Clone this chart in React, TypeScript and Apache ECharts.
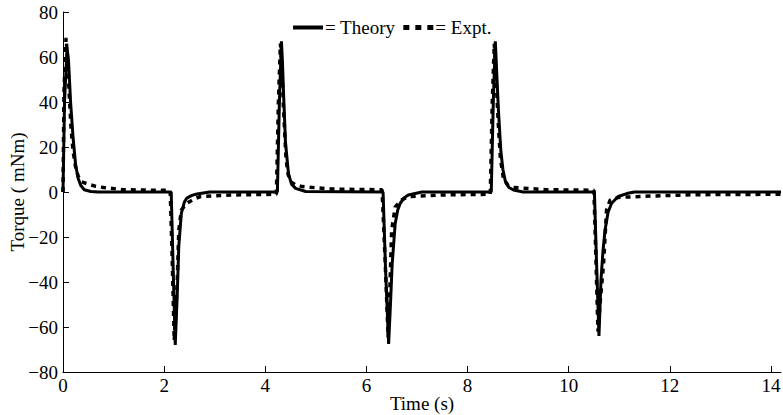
import React, { useEffect, useRef } from "react";
import * as echarts from "echarts";

const theoryTime = [0, 0.03, 0.08, 0.11, 0.15, 0.2, 0.25, 0.3, 0.35, 0.42, 0.55, 0.7, 2.14, 2.18, 2.22, 2.26, 2.29, 2.34, 2.4, 2.45, 2.55, 2.65, 2.9, 4.24, 4.28, 4.32, 4.34, 4.36, 4.4, 4.46, 4.52, 4.6, 4.8, 6.33, 6.38, 6.44, 6.48, 6.51, 6.57, 6.62, 6.67, 6.75, 6.83, 7.1, 8.47, 8.51, 8.55, 8.58, 8.61, 8.66, 8.7, 8.75, 8.82, 8.91, 9.1, 10.51, 10.55, 10.6, 10.64, 10.68, 10.72, 10.78, 10.85, 10.98, 11.15, 11.3, 14.2];
const theoryTorque = [0, 40, 64, 58, 40, 24, 12, 6, 3, 1, 0.2, 0, 0, -35, -68, -45, -24, -9.5, -4.5, -2.7, -1.5, -0.9, 0, 0, 40, 67, 58, 45, 22, 8, 3.5, 1.6, 0.2, 0, -35, -67.5, -48, -32, -14, -8, -5, -2.5, -1.3, 0, 0, 40, 67, 52, 37, 18, 10, 4.6, 2, 0.9, 0, 0, -30, -64, -39, -26, -17, -9, -5, -2, -0.7, 0, 0];

const exptTime = [0, 0.02, 0.06, 0.09, 0.12, 0.16, 0.2, 0.25, 0.3, 0.37, 0.5, 0.65, 0.8, 1.2, 2.12, 2.16, 2.2, 2.23, 2.26, 2.29, 2.34, 2.45, 2.6, 2.72, 3.37, 4.22, 4.26, 4.3, 4.33, 4.36, 4.41, 4.45, 4.5, 4.6, 4.73, 5.32, 6.31, 6.37, 6.43, 6.45, 6.47, 6.5, 6.57, 6.7, 6.83, 7.5, 8.45, 8.49, 8.53, 8.57, 8.61, 8.65, 8.71, 8.8, 8.91, 9.56, 10.5, 10.54, 10.58, 10.62, 10.69, 10.75, 10.82, 10.98, 11.64, 12.5, 14.2];
const exptTorque = [0, 45, 68.5, 60, 45, 28, 18, 11, 7, 4.5, 3.5, 2.5, 2, 1, 0.7, -30, -66, -55, -39, -17, -8, -5, -3, -2, -1.3, -1, 40, 66, 55, 37.5, 15, 8, 4.6, 3.2, 2.4, 1.3, 1, -30, -64.5, -52, -39, -17, -6.6, -3.5, -2, -1.3, -1, 40, 66, 48, 30, 15, 6, 3, 2, 1, 0.8, -30, -62, -50, -32, -8, -3.6, -2.4, -1.8, -1.2, -1];

const xTicks = [0, 2, 4, 6, 8, 10, 12, 14];
const yTicks = [-80, -60, -40, -20, 0, 20, 40, 60, 80];

const FONT = "'Liberation Serif', 'Times New Roman', serif";

export default function App() {
  const ref = useRef<HTMLDivElement>(null);
  useEffect(() => {
    if (!ref.current) return;
    const chart = echarts.init(ref.current, null, { renderer: "svg" });
    const zip = (t: number[], v: number[]) => t.map((x, i) => [x, v[i]]);
    const fmt = (v: number) => (v < 0 ? "\u2212" + Math.abs(v) : String(v));
    chart.setOption({
      animation: false,
      backgroundColor: "#fff",
      grid: { left: 63, right: 2, top: 12, bottom: 43, containLabel: false, outerBoundsMode: "none" },
      legend: {
        top: 13,
        left: 288,
        itemWidth: 30,
        itemHeight: 14,
        itemGap: 8,
        formatter: (n: string) => "= " + n,
        textStyle: { fontFamily: FONT, fontSize: 19, color: "#000", padding: [0, 0, 0, -3] },
        data: [
          { name: "Theory", icon: "path://M0,0H30V4H0Z" },
          { name: "Expt.", icon: "path://M0,0H6V5H0ZM12,0H18V5H12ZM24,0H30V5H24Z" },
        ],
      },
      xAxis: {
        type: "value",
        min: 0,
        max: 14.2,
        interval: 2,
        name: "Time (s)",
        nameLocation: "middle",
        nameGap: 22,
        nameMoveOverlap: false,
        nameTextStyle: { fontFamily: FONT, fontSize: 19, color: "#000" },
        axisLine: { onZero: false, lineStyle: { color: "#000", width: 1 } },
        axisTick: { inside: true, length: 6, customValues: xTicks, lineStyle: { color: "#000" } },
        axisLabel: { customValues: xTicks, fontFamily: FONT, fontSize: 19, color: "#000", margin: 4 },
        splitLine: { show: false },
      },
      yAxis: {
        type: "value",
        min: -80,
        max: 80,
        interval: 20,
        name: "Torque ( mNm)",
        nameLocation: "middle",
        nameGap: 36,
        nameMoveOverlap: false,
        nameTextStyle: { fontFamily: FONT, fontSize: 19, color: "#000" },
        axisLine: { show: true, onZero: false, lineStyle: { color: "#000", width: 1 } },
        axisTick: { show: true, inside: true, length: 6, customValues: yTicks, lineStyle: { color: "#000" } },
        axisLabel: { customValues: yTicks, fontFamily: FONT, fontSize: 19, color: "#000", margin: 5, formatter: fmt },
        splitLine: { show: false },
      },
      series: [
        {
          name: "Theory",
          type: "line",
          symbol: "none",
          data: zip(theoryTime, theoryTorque),
          lineStyle: { color: "#000", width: 3 },
          itemStyle: { color: "#000" },
        },
        {
          name: "Expt.",
          type: "line",
          symbol: "none",
          data: zip(exptTime, exptTorque),
          lineStyle: { color: "#000", width: 3.5, type: [5, 5], cap: "butt" },
          itemStyle: { color: "#000" },
        },
      ],
    });
    return () => chart.dispose();
  }, []);
  return <div ref={ref} style={{ position: "fixed", left: 0, top: 0, width: 783, height: 415, background: "#fff" }} />;
}
